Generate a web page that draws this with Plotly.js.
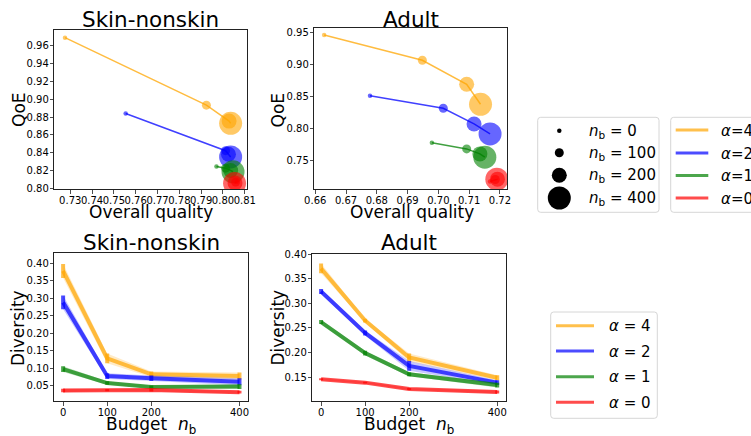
<!DOCTYPE html>
<html><head><meta charset="utf-8">
<script src="https://cdn.plot.ly/plotly-3.0.1.min.js"></script>
<style>html,body{margin:0;padding:0;background:#fff;} #chart{width:751px;height:436px;}</style>
</head><body><div id="chart"></div>
<script>
// ---------------- data ----------------
const alphaLabels = ['4', '2', '1', '0'];
const budgets = [0, 100, 200, 400];
const budgetTickLabels = ['0', '100', '200', '400'];

// Skin-nonskin: overall quality / QoE, one row per alpha (4,2,1,0), columns n_b = 0,100,200,400
const skinQuality = [
  [0.7276, 0.7924, 0.8028, 0.8035],
  [0.7554, 0.8012, 0.8025, 0.8035],
  [0.7970, 0.8012, 0.8035, 0.8046],
  [0.8063, 0.8058, 0.8055, 0.8053]
];
const skinQoE = [
  [0.9685, 0.8932, 0.8755, 0.8730],
  [0.8839, 0.8425, 0.8385, 0.8355],
  [0.8248, 0.8230, 0.8205, 0.8190],
  [0.8080, 0.8075, 0.8065, 0.8060]
];
// Adult
const adultQuality = [
  [0.6629, 0.6948, 0.7092, 0.7137],
  [0.6778, 0.7016, 0.7116, 0.7168],
  [0.6979, 0.7092, 0.7135, 0.7151],
  [0.7168, 0.7185, 0.7192, 0.7190]
];
const adultQoE = [
  [0.9458, 0.9062, 0.8686, 0.8373],
  [0.8508, 0.8311, 0.8065, 0.7909],
  [0.7772, 0.7674, 0.7596, 0.7545],
  [0.7165, 0.7195, 0.7200, 0.7200]
];
// Diversity vs budget
const skinDiversity = [
  [0.378, 0.128, 0.082, 0.077],
  [0.288, 0.077, 0.071, 0.061],
  [0.097, 0.057, 0.046, 0.047],
  [0.036, 0.037, 0.037, 0.031]
];
const skinDiversityErr = [
  [0.020, 0.014, 0.008, 0.010],
  [0.020, 0.008, 0.008, 0.010],
  [0.008, 0.005, 0.004, 0.007],
  [0.005, 0.003, 0.004, 0.004]
];
const adultDiversity = [
  [0.371, 0.265, 0.190, 0.149],
  [0.324, 0.240, 0.173, 0.139],
  [0.262, 0.199, 0.156, 0.134],
  [0.146, 0.139, 0.126, 0.120]
];
const adultDiversityErr = [
  [0.010, 0.004, 0.008, 0.005],
  [0.005, 0.005, 0.010, 0.005],
  [0.004, 0.005, 0.004, 0.005],
  [0.002, 0.002, 0.002, 0.003]
];

// ---------------- styles ----------------
const RGB = ['255,165,0', '0,0,255', '0,128,0', '255,0,0'];
const markerSizes = [4.5, 9, 15, 23];
const FONT = 'DejaVu Sans, Liberation Sans, sans-serif';
const W = 751, H = 436;
const px = x => x / W;
const py = y => 1 - y / H;

const traces = [];
function qoeTraces(qual, qoe, xa, ya) {
  for (let i = 0; i < qual.length; i++) {
    traces.push({
      x: qual[i], y: qoe[i], xaxis: xa, yaxis: ya, type: 'scatter', mode: 'lines+markers',
      line: {color: 'rgba(' + RGB[i] + ',0.75)', width: 1.5},
      marker: {size: markerSizes, color: 'rgb(' + RGB[i] + ')', opacity: 0.6, line: {width: 0}},
      showlegend: false, hoverinfo: 'skip'
    });
  }
}
function divTraces(div, err, xa, ya) {
  for (let i = 0; i < div.length; i++) {
    const lo = div[i].map((v, k) => v - err[i][k]);
    const hi = div[i].map((v, k) => v + err[i][k]);
    traces.push({x: budgets, y: lo, xaxis: xa, yaxis: ya, type: 'scatter', mode: 'lines',
      line: {width: 0, color: 'rgba(0,0,0,0)'}, showlegend: false, hoverinfo: 'skip'});
    traces.push({x: budgets, y: hi, xaxis: xa, yaxis: ya, type: 'scatter', mode: 'lines',
      line: {width: 0, color: 'rgba(0,0,0,0)'}, fill: 'tonexty', fillcolor: 'rgba(' + RGB[i] + ',0.22)',
      showlegend: false, hoverinfo: 'skip'});
    traces.push({x: budgets, y: div[i], xaxis: xa, yaxis: ya, type: 'scatter', mode: 'lines',
      line: {width: 4, color: 'rgba(' + RGB[i] + ',0.7)'},
      error_y: {type: 'data', array: err[i], visible: true, thickness: 4, width: 0, color: 'rgba(' + RGB[i] + ',0.7)'},
      showlegend: false, hoverinfo: 'skip'});
  }
}
qoeTraces(skinQuality, skinQoE, 'x', 'y');
qoeTraces(adultQuality, adultQoE, 'x2', 'y2');
divTraces(skinDiversity, skinDiversityErr, 'x3', 'y3');
divTraces(adultDiversity, adultDiversityErr, 'x4', 'y4');

function ax(extra) {
  return Object.assign({
    showline: true, mirror: true, linecolor: '#222', linewidth: 1,
    ticks: 'outside', ticklen: 3.5, tickwidth: 0.8, tickcolor: '#222',
    showgrid: false, zeroline: false, tickangle: 0, automargin: false, fixedrange: true,
    tickfont: {family: FONT, size: 10, color: '#000'}
  }, extra);
}

const layout = {
  width: W, height: H, margin: {l: 0, r: 0, t: 0, b: 0, autoexpand: false},
  paper_bgcolor: '#fff', plot_bgcolor: '#fff', showlegend: false,
  font: {family: FONT, color: '#000'},
  xaxis: ax({domain: [px(54.3), px(247)], range: [0.7227, 0.811], tick0: 0.73, dtick: 0.01, tickformat: '.2f', anchor: 'y', ticklabelstandoff: -2}),
  yaxis: ax({domain: [py(189), py(30)], range: [0.7998, 0.977], tick0: 0.8, dtick: 0.02, tickformat: '.2f', anchor: 'x', ticklabelstandoff: -1}),
  xaxis2: ax({domain: [px(314.3), px(507.3)], range: [0.6597, 0.7224], tick0: 0.67, dtick: 0.01, tickformat: '.2f', anchor: 'y2', ticklabelstandoff: -2}),
  yaxis2: ax({domain: [py(189), py(27.7)], range: [0.7046, 0.9572], tick0: 0.75, dtick: 0.05, tickformat: '.2f', anchor: 'x2', ticklabelstandoff: -1}),
  xaxis3: ax({domain: [px(54.3), px(248.3)], range: [-20, 420], tickvals: budgets, ticktext: budgetTickLabels, anchor: 'y3', ticklabelstandoff: -2}),
  yaxis3: ax({domain: [py(401), py(253.3)], range: [0.0058, 0.4284], tick0: 0.05, dtick: 0.05, tickformat: '.2f', anchor: 'x3', ticklabelstandoff: -1}),
  xaxis4: ax({domain: [px(312.3), px(506)], range: [-20, 420], tickvals: budgets, ticktext: budgetTickLabels, anchor: 'y4', ticklabelstandoff: -2}),
  yaxis4: ax({domain: [py(401), py(254)], range: [0.1017, 0.4003], tick0: 0.15, dtick: 0.05, tickformat: '.2f', anchor: 'x4', ticklabelstandoff: -1}),
  annotations: [],
  shapes: []
};

function txt(text, x, y, size, opts) {
  layout.annotations.push(Object.assign({
    text: text, x: px(x), y: py(y), xref: 'paper', yref: 'paper', showarrow: false,
    xanchor: 'center', yanchor: 'middle', font: {family: FONT, size: size, color: '#000'}
  }, opts || {}));
}
// titles
txt('Skin-nonskin', 150.5, 19, 21.5);
txt('Adult', 411, 19, 21.5);
txt('Skin-nonskin', 151, 242.5, 21.5);
txt('Adult', 409, 242.5, 21.5);
// axis titles
txt('Overall quality', 151, 212, 17);
txt('Overall quality', 411.5, 212, 17);
txt('QoE', 19, 110, 17, {textangle: -90});
txt('QoE', 277.5, 110, 17, {textangle: -90});
txt('Diversity', 18, 328, 17, {textangle: -90});
txt('Diversity', 277.5, 328, 17, {textangle: -90});
txt('Budget  <i>n</i><sub>b</sub>', 151, 425, 17);
txt('Budget  <i>n</i><sub>b</sub>', 409, 425, 17);

// legends
function roundRect(x0, y0, x1, y1, r) {
  const P = (x, y) => px(x) + ',' + py(y);
  return 'M' + P(x0 + r, y0) + ' L' + P(x1 - r, y0) + ' Q' + P(x1, y0) + ' ' + P(x1, y0 + r) +
    ' L' + P(x1, y1 - r) + ' Q' + P(x1, y1) + ' ' + P(x1 - r, y1) +
    ' L' + P(x0 + r, y1) + ' Q' + P(x0, y1) + ' ' + P(x0, y1 - r) +
    ' L' + P(x0, y0 + r) + ' Q' + P(x0, y0) + ' ' + P(x0 + r, y0) + ' Z';
}
function box(x0, y0, x1, y1) {
  layout.shapes.push({type: 'path', xref: 'paper', yref: 'paper', path: roundRect(x0, y0, x1, y1, 3),
    line: {color: '#d6d6d6', width: 1}, fillcolor: 'rgba(255,255,255,0.8)', layer: 'above'});
}
// size legend
box(537.7, 117.3, 659, 212.3);
const sizeRows = [130.7, 152.7, 175.3, 198];
budgets.forEach((b, k) => {
  const d = markerSizes[k], cx = 559.3, cy = sizeRows[k];
  layout.shapes.push({type: 'circle', xref: 'paper', yref: 'paper',
    x0: px(cx - d / 2), x1: px(cx + d / 2), y0: py(cy + d / 2), y1: py(cy - d / 2),
    fillcolor: '#000', line: {width: 0}, layer: 'above'});
  txt('<i>n</i><sub>b</sub> = ' + budgetTickLabels[k], 586.7, cy + 0.5, 15, {xanchor: 'left'});
});
// alpha legend (top, cut at the right edge)
box(670.7, 117.3, 800, 212.3);
const aRowsTop = [130, 153, 175.5, 198];
alphaLabels.forEach((a, i) => {
  layout.shapes.push({type: 'line', xref: 'paper', yref: 'paper', x0: px(675.7), x1: px(708.3),
    y0: py(aRowsTop[i]), y1: py(aRowsTop[i]), line: {color: 'rgba(' + RGB[i] + ',0.7)', width: 3}, layer: 'above'});
  txt('<i>α</i>=' + a, 719.3, aRowsTop[i] + 0.5, 15, {xanchor: 'left'});
});
// alpha legend (bottom)
box(550.7, 312, 657.3, 418.3);
const aRowsBot = [325.7, 351, 376.7, 402.3];
alphaLabels.forEach((a, i) => {
  layout.shapes.push({type: 'line', xref: 'paper', yref: 'paper', x0: px(556), x1: px(594),
    y0: py(aRowsBot[i]), y1: py(aRowsBot[i]), line: {color: 'rgba(' + RGB[i] + ',0.7)', width: 3}, layer: 'above'});
  txt('<i>α</i> = ' + a, 606.7, aRowsBot[i] + 0.5, 15, {xanchor: 'left'});
});

Plotly.newPlot('chart', traces, layout, {displayModeBar: false, staticPlot: true});
</script>
</body></html>
